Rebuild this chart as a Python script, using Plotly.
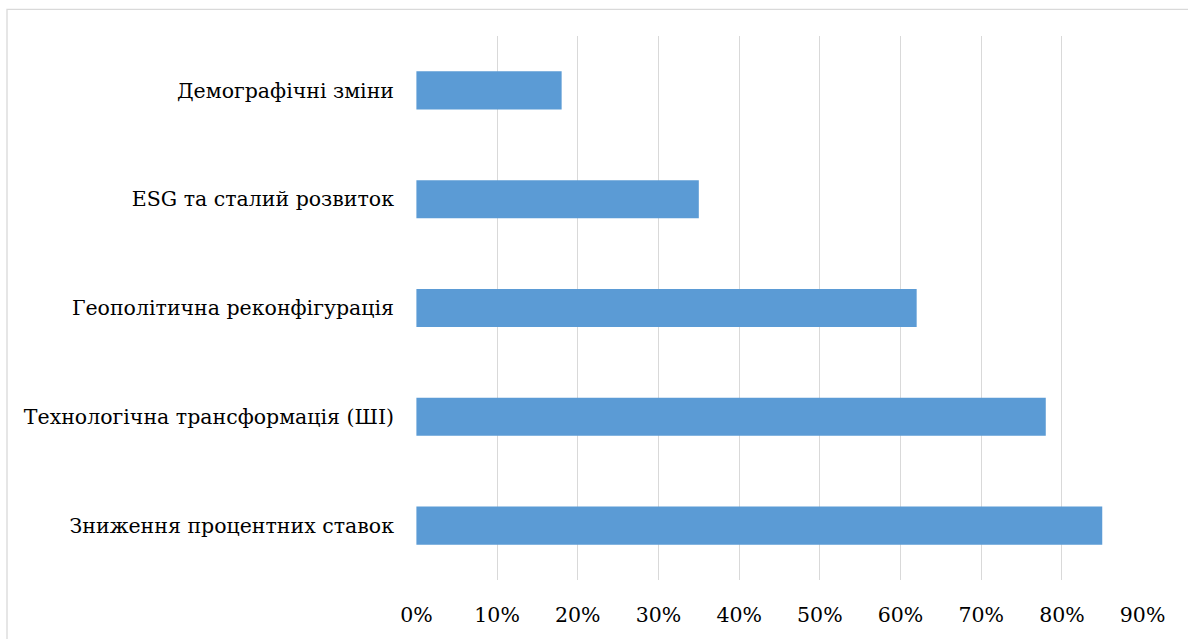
import plotly.graph_objects as go

categories = [
    "Демографічні зміни",
    "ESG та сталий розвиток",
    "Геополітична реконфігурація",
    "Технологічна трансформація (ШІ)",
    "Зниження процентних ставок",
]
values = [0.18, 0.35, 0.62, 0.78, 0.85]
tick_vals = [0, 0.1, 0.2, 0.3, 0.4, 0.5, 0.6, 0.7, 0.8, 0.9]
tick_text = ["0%", "10%", "20%", "30%", "40%", "50%", "60%", "70%", "80%", "90%"]

W, H = 1188, 639
L, R, T, B = 416, 45, 36, 53

fig = go.Figure(go.Bar(
    x=values, y=categories, orientation="h",
    marker=dict(color="#5B9BD5", line=dict(width=0)),
    width=0.35,
    hoverinfo="x+y",
))

pw = W - L - R
ph = H - T - B
fx0 = (7 - L) / pw
fx1 = (W + 10 - L) / pw
fy1 = (H - B - 9) / ph
fy0 = (H - B - (H + 10)) / ph

fig.add_shape(type="rect", xref="paper", yref="paper",
              x0=fx0, x1=fx1, y0=fy0, y1=fy1,
              line=dict(color="#D9D9D9", width=1.3), fillcolor="rgba(0,0,0,0)",
              layer="below")

fig.update_layout(
    width=W, height=H,
    margin=dict(l=L, r=R, t=T, b=B, pad=0),
    paper_bgcolor="white", plot_bgcolor="white",
    font=dict(family="DejaVu Serif", size=20.5, color="#000000"),
    showlegend=False,
    xaxis=dict(
        range=[-0.0005, 0.9005], tickvals=tick_vals, ticktext=tick_text,
        showgrid=True, gridcolor="#D9D9D9", gridwidth=1.3,
        zeroline=False, showline=False, ticks="",
        ticklabelstandoff=20, fixedrange=True,
    ),
    yaxis=dict(
        autorange="reversed", showgrid=False, zeroline=False, showline=False,
        ticks="", ticklabelstandoff=21, fixedrange=True,
    ),
)

fig.write_html("out.html", config={"displayModeBar": False},
               post_script="document.body.style.margin='0';document.body.style.overflow='hidden';")
